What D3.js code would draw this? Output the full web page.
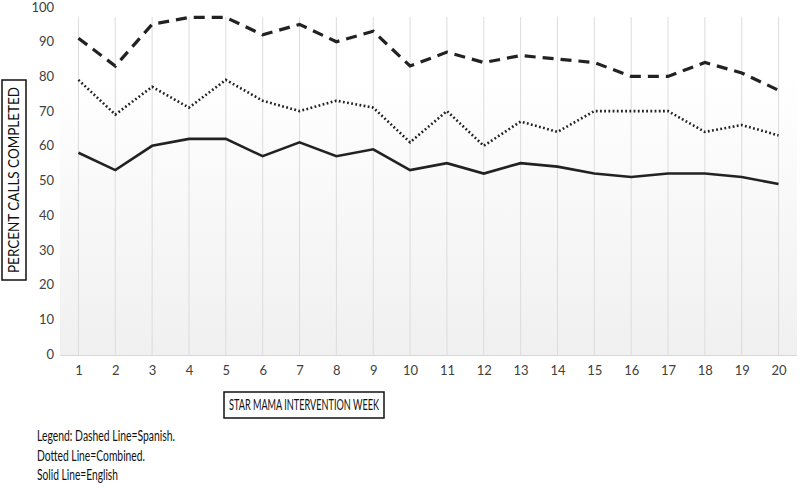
<!DOCTYPE html>
<html><head><meta charset="utf-8">
<script src="https://cdn.jsdelivr.net/npm/d3@7"></script>
<style>
body{margin:0;background:#fff;}
text{font-family:"Lato","Open Sans",sans-serif;}
</style></head>
<body><svg id="c" width="800" height="500"></svg>
<script>
const weeks = [1,2,3,4,5,6,7,8,9,10,11,12,13,14,15,16,17,18,19,20];
const spanish = [91,83,95,97,97,92,95,90,93,83,87,84,86,85,84,80,80,84,81,76];
const combined = [79,69,77,71,79,73,70,73,71,61,70,60,67,64,70,70,70,64,66,63];
const english = [58,53,60,62,62,57,61,57,59,53,55,52,55,54,52,51,52,52,51,49];
const yTicks = [0,10,20,30,40,50,60,70,80,90,100];
const yLabel = "PERCENT CALLS COMPLETED";
const xLabel = "STAR MAMA INTERVENTION WEEK";
const legendLines = ["Legend: Dashed Line=Spanish.","Dotted Line=Combined.","Solid Line=English"];
const legendWidths = [138,108,81];

const svg = d3.select("#c");
const L=60,R=797,T=7,B=355;
const x = d3.scalePoint().domain(weeks).range([L,R]).padding(0.5);
const y = d3.scaleLinear().domain([0,100]).range([B-1,T]);

const defs = svg.append("defs");
const g = defs.append("linearGradient").attr("id","bg").attr("x1",0).attr("y1",0).attr("x2",0).attr("y2",1);
g.append("stop").attr("offset","0%").attr("stop-color","#ffffff");
g.append("stop").attr("offset","20%").attr("stop-color","#ffffff");
g.append("stop").attr("offset","100%").attr("stop-color","#f0f0f0");
svg.append("rect").attr("x",L).attr("y",T).attr("width",R-L).attr("height",B-T).attr("fill","url(#bg)");

// vertical gridlines
svg.append("g").selectAll("line").data(weeks).join("line")
  .attr("x1",d=>x(d)).attr("x2",d=>x(d)).attr("y1",T+10).attr("y2",B)
  .attr("stroke","#dcdcdc").attr("stroke-width",1);
svg.append("line").attr("x1",L).attr("x2",R).attr("y1",B+0.5).attr("y2",B+0.5).attr("stroke","#d9d9d9");

// y axis
const ya = svg.append("g").attr("transform",`translate(${L-6},0)`)
  .call(d3.axisLeft(y).tickValues(yTicks).tickSize(0).tickPadding(0));
ya.select(".domain").remove();
ya.selectAll("text").attr("font-size",13).attr("fill","#404040").style("font-family","Lato,'Open Sans',sans-serif");

// x axis
const xa = svg.append("g").attr("transform",`translate(0,${B+11})`)
  .call(d3.axisBottom(x).tickSize(0).tickPadding(0));
xa.select(".domain").remove();
xa.selectAll("text").attr("font-size",13).attr("fill","#404040").style("font-family","Lato,'Open Sans',sans-serif");

const line = d3.line().x((d,i)=>x(weeks[i])).y(d=>y(d));
svg.append("path").datum(spanish).attr("d",line).attr("fill","none").attr("stroke","#222")
  .attr("stroke-width",3.2).attr("stroke-dasharray","11,7");
svg.append("path").datum(combined).attr("d",line).attr("fill","none").attr("stroke","#222")
  .attr("stroke-width",2.6).attr("stroke-dasharray","1.8,2.4");
svg.append("path").datum(english).attr("d",line).attr("fill","none").attr("stroke","#222")
  .attr("stroke-width",2.6);

// y label box
const yl = svg.append("g").attr("transform","translate(14,180) rotate(-90)");
yl.append("rect").attr("x",-100).attr("y",-12).attr("width",200).attr("height",24).attr("fill","#fff").attr("stroke","#111").attr("stroke-width",1.5);
yl.append("text").attr("x",-93).attr("dy","0.36em").attr("font-size",15).attr("fill","#111")
  .attr("textLength",186).attr("lengthAdjust","spacingAndGlyphs").text(yLabel);

// x label box
const xl = svg.append("g").attr("transform","translate(304,405)");
xl.append("rect").attr("x",-80).attr("y",-13).attr("width",160).attr("height",26).attr("fill","#fff").attr("stroke","#111").attr("stroke-width",1.5);
xl.append("text").attr("x",-75).attr("dy","0.36em").attr("font-size",15).attr("fill","#111")
  .attr("textLength",150).attr("lengthAdjust","spacingAndGlyphs").text(xLabel);

// legend
svg.append("g").selectAll("text").data(legendLines).join("text")
  .attr("x",37).attr("y",(d,i)=>441+i*19.5).attr("font-size",14.5).attr("fill","#111")
  .attr("textLength",(d,i)=>legendWidths[i]).attr("lengthAdjust","spacingAndGlyphs").text(d=>d);
</script></body></html>
